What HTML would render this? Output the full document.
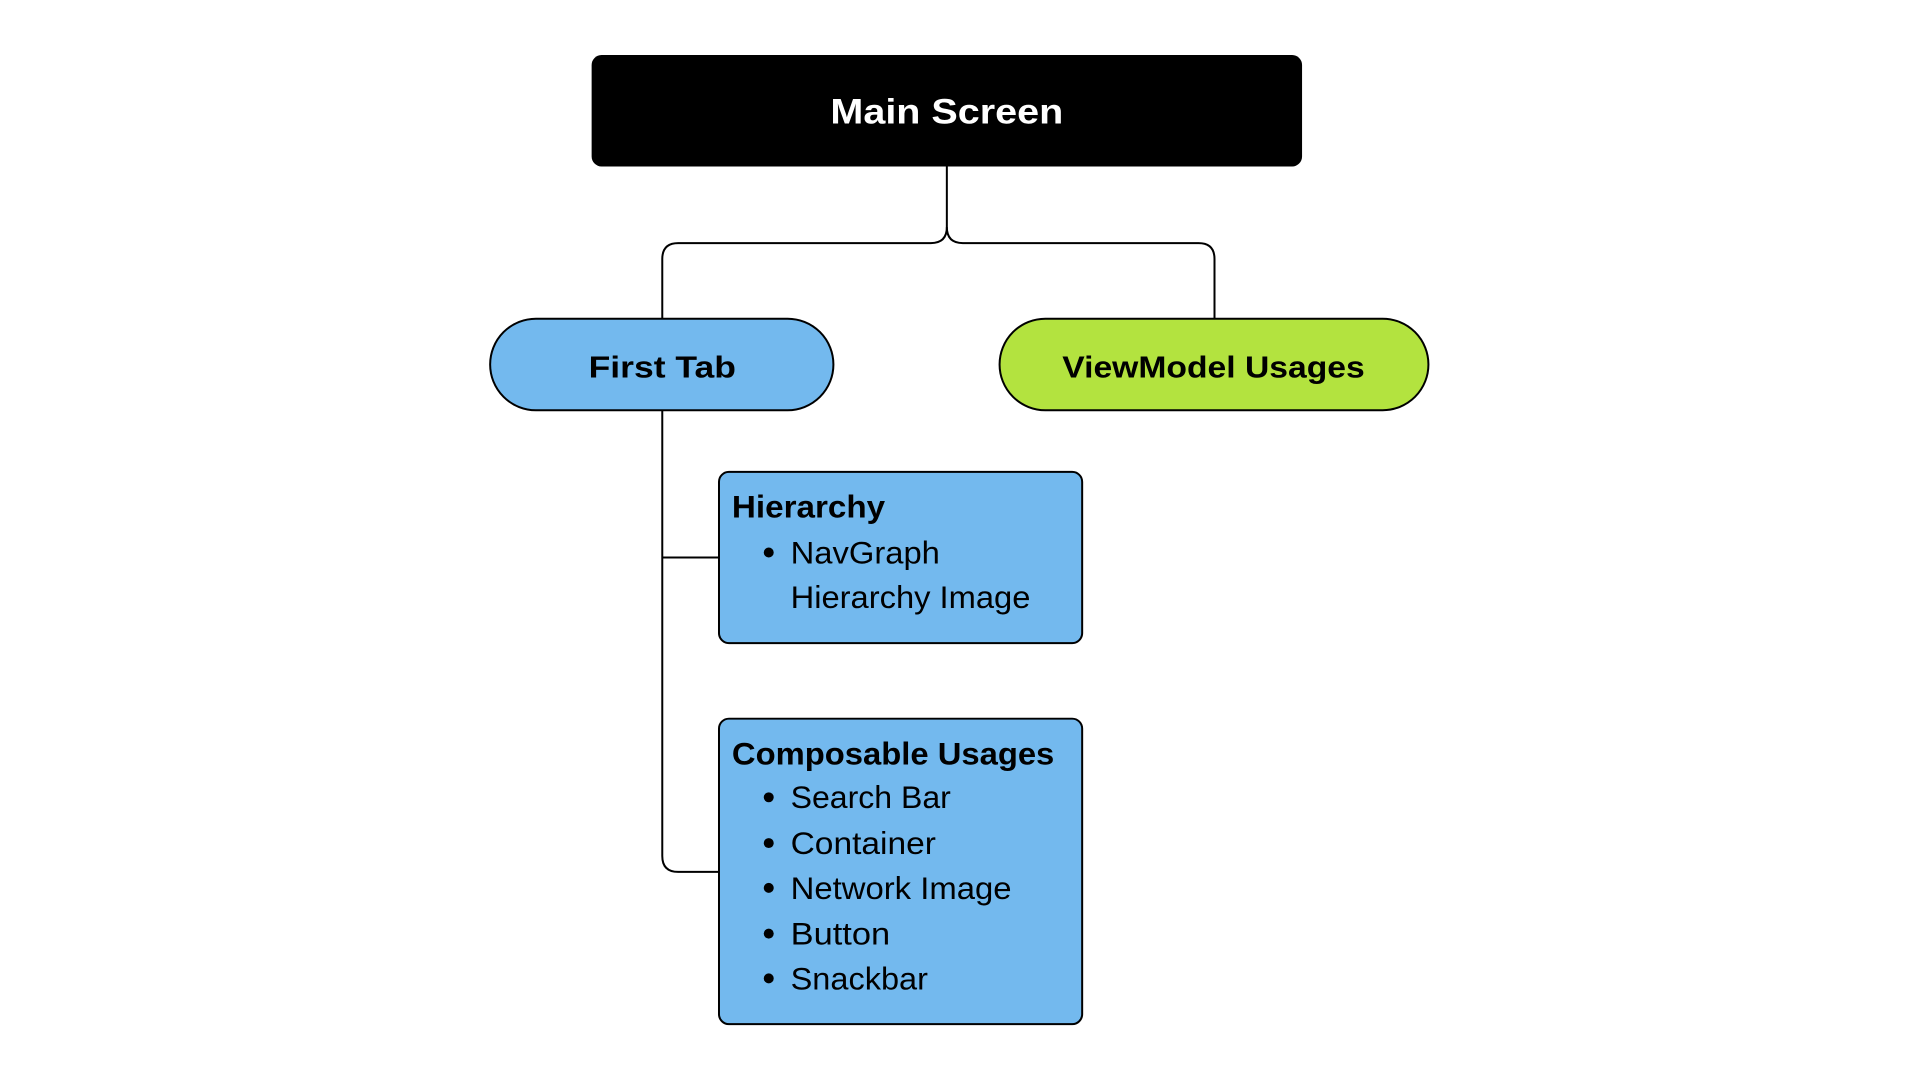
<!DOCTYPE html>
<html><head><meta charset="utf-8"><style>html,body{margin:0;padding:0;background:#fff;}svg{display:block}</style></head>
<body>
<svg width="1920" height="1080" viewBox="0 0 1920 1080" xmlns="http://www.w3.org/2000/svg" font-family="Liberation Sans, sans-serif">
<rect width="1920" height="1080" fill="#fff"/>
<g transform="translate(0.6,0.3) scale(0.995)">
<g fill="none" stroke="#000" stroke-width="2">
<path d="M951 167 V228 Q951 244 935 244 H681 Q665 244 665 260 V320"/>
<path d="M951 228 Q951 244 967 244 H1204 Q1220 244 1220 260 V320"/>
<path d="M665 412 V860 Q665 876 681 876 H722"/>
<path d="M665 560 H722"/>
</g>
<rect x="594" y="55" width="714" height="112" rx="10" fill="#000"/>
<rect x="492" y="320" width="345" height="92" rx="46" fill="#73b9ee" stroke="#000" stroke-width="2"/>
<rect x="1004" y="320" width="431" height="92" rx="46" fill="#b3e33f" stroke="#000" stroke-width="2"/>
<rect x="722" y="474" width="365" height="172" rx="10" fill="#73b9ee" stroke="#000" stroke-width="2"/>
<rect x="722" y="722" width="365" height="307" rx="10" fill="#73b9ee" stroke="#000" stroke-width="2"/>
<g font-weight="bold">
<text x="834" y="124" font-size="35" fill="#fff" textLength="234" lengthAdjust="spacingAndGlyphs">Main Screen</text>
<text x="591" y="379" font-size="31" textLength="148" lengthAdjust="spacingAndGlyphs">First Tab</text>
<text x="1067" y="379" font-size="31" textLength="304" lengthAdjust="spacingAndGlyphs">ViewModel Usages</text>
<text x="735" y="520" font-size="32" textLength="154" lengthAdjust="spacingAndGlyphs">Hierarchy</text>
<text x="735" y="768" font-size="32" textLength="324" lengthAdjust="spacingAndGlyphs">Composable Usages</text>
</g>
<g font-size="32">
<text x="794" y="566" textLength="150" lengthAdjust="spacingAndGlyphs">NavGraph</text>
<text x="794" y="611" textLength="241" lengthAdjust="spacingAndGlyphs">Hierarchy Image</text>
<text x="794" y="812" textLength="161" lengthAdjust="spacingAndGlyphs">Search Bar</text>
<text x="794" y="858" textLength="146" lengthAdjust="spacingAndGlyphs">Container</text>
<text x="794" y="903" textLength="222" lengthAdjust="spacingAndGlyphs">Network Image</text>
<text x="794" y="949" textLength="100" lengthAdjust="spacingAndGlyphs">Button</text>
<text x="794" y="994" textLength="138" lengthAdjust="spacingAndGlyphs">Snackbar</text>
</g>
<g fill="#000">
<circle cx="772" cy="555" r="5"/>
<circle cx="772" cy="801" r="5"/>
<circle cx="772" cy="847" r="5"/>
<circle cx="772" cy="892" r="5"/>
<circle cx="772" cy="938" r="5"/>
<circle cx="772" cy="983" r="5"/>
</g>
</g>
</svg>
</body></html>
